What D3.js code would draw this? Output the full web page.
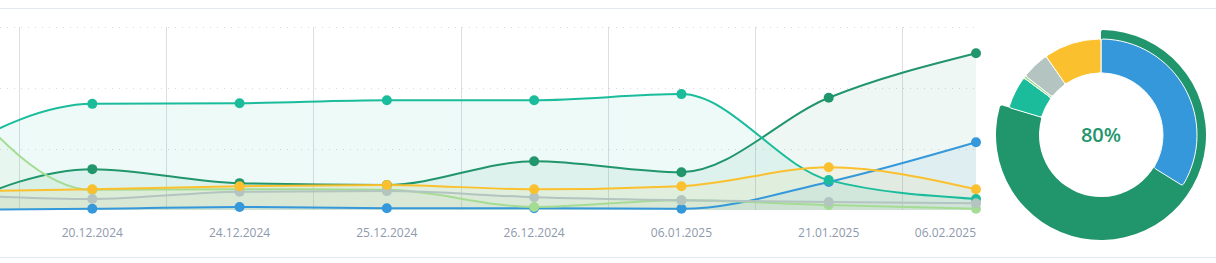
<!DOCTYPE html>
<html lang="en">
<head>
<meta charset="UTF-8">
<title>Dashboard</title>
<script src="https://d3js.org/d3.v7.min.js"></script>
<style>
  body { margin: 0; background: #fff; }
  svg { display: block; font-family: "Open Sans", sans-serif; }
  .tick-label { font-size: 12px; fill: #8e99ab; }
</style>
</head>
<body>
<svg id="chart" width="1216" height="263"></svg>
<script>
// categories (first one sits off the left edge of the view)
const dates = ["19.12.2024", "20.12.2024", "24.12.2024", "25.12.2024", "26.12.2024", "06.01.2025", "21.01.2025", "06.02.2025"];

// series values, in drawing order
const darkGreen  = [0, 67, 44, 41, 80, 62, 184, 257];
const blue       = [0, 2, 5, 3, 3, 2, 46, 111];
const teal       = [90, 174, 175, 180, 180, 190, 49, 18];
const lightGreen = [215, 33, 34, 33, 5, 16, 8, 2];
const gray       = [26, 18, 30, 31, 21, 16, 13, 11];
const yellow     = [30, 34, 39, 41, 34, 39, 70, 34];

const yTicks = [100, 200, 300];

// donut slices, clockwise from 12 o'clock
const donutNames  = ["blue", "darkGreen", "teal", "lightGreen", "gray", "yellow"];
const donutValues = [122, 165, 20, 1.5, 17, 35];
const donutLabel = "80%";

const colors = {
  darkGreen: "#21956b",
  blue: "#3498db",
  teal: "#1abc9c",
  lightGreen: "#a5dc94",
  gray: "#b3c4c1",
  yellow: "#fbc02d"
};

const series = [
  {name: "darkGreen", values: darkGreen},
  {name: "blue", values: blue},
  {name: "teal", values: teal},
  {name: "lightGreen", values: lightGreen},
  {name: "gray", values: gray},
  {name: "yellow", values: yellow}
];

const svg = d3.select("#chart");

// card borders
svg.append("line").attr("x1", 0).attr("x2", 1216).attr("y1", 8.5).attr("y2", 8.5)
  .attr("stroke", "#e3e9ef");
svg.append("line").attr("x1", 0).attr("x2", 1216).attr("y1", 257.5).attr("y2", 257.5)
  .attr("stroke", "#e3e9ef");

const x = d3.scalePoint().domain(dates).range([-55, 976]);
const y = d3.scaleLinear().domain([0, 300]).range([210, 27]);
const step = x.step();

// horizontal dotted grid
svg.append("g").selectAll("line").data(yTicks).join("line")
  .attr("x1", 0).attr("x2", 976)
  .attr("y1", d => Math.round(y(d)) + 0.5).attr("y2", d => Math.round(y(d)) + 0.5)
  .attr("stroke", "#d6d9dd").attr("stroke-dasharray", "1 6");

// vertical grid between categories
svg.append("g").selectAll("line").data(dates.slice(1)).join("line")
  .attr("x1", d => Math.round(x(d) - step / 2) + 0.5)
  .attr("x2", d => Math.round(x(d) - step / 2) + 0.5)
  .attr("y1", y(300)).attr("y2", y(0))
  .attr("stroke", "#dcdfe2");

const area = d3.area()
  .x((d, i) => x(dates[i]))
  .y0(y(0))
  .y1(d => y(d))
  .curve(d3.curveMonotoneX);

const line = d3.line()
  .x((d, i) => x(dates[i]))
  .y(d => y(d))
  .curve(d3.curveMonotoneX);

svg.append("g").selectAll("path").data(series).join("path")
  .attr("d", d => area(d.values))
  .attr("fill", d => colors[d.name])
  .attr("fill-opacity", 0.08);

svg.append("g").selectAll("path").data(series).join("path")
  .attr("d", d => line(d.values))
  .attr("fill", "none")
  .attr("stroke", d => colors[d.name])
  .attr("stroke-width", 2);

const dots = svg.append("g");
series.forEach(s => {
  dots.append("g").selectAll("circle").data(s.values).join("circle")
    .attr("cx", (d, i) => x(dates[i]))
    .attr("cy", d => y(d))
    .attr("r", 5)
    .attr("fill", colors[s.name]);
});

// x labels (the first category is scrolled out of view)
svg.append("g").selectAll("text").data(dates.filter(d => x(d) > 0)).join("text")
  .attr("class", "tick-label")
  .attr("x", d => x(d))
  .attr("y", 237)
  .attr("text-anchor", d => d === dates[dates.length - 1] ? "end" : "middle")
  .text(d => d);

// donut
const cx = 1101, cy = 135;
const donut = svg.append("g").attr("transform", `translate(${cx},${cy})`);
const pie = d3.pie().sort(null).value(d => d)(donutValues);
const arc = d3.arc().innerRadius(62).outerRadius(96).cornerRadius(2);
const hiIndex = donutNames.indexOf("darkGreen");

// highlighted (expanded) slice ring
donut.append("path")
  .attr("d", d3.arc().innerRadius(62).outerRadius(105).cornerRadius(2)({
    startAngle: 0, endAngle: pie[hiIndex].endAngle
  }))
  .attr("fill", colors.darkGreen);

donut.selectAll("path.slice").data(pie).join("path")
  .attr("class", "slice")
  .filter((d, i) => i !== hiIndex)
  .attr("d", arc)
  .attr("fill", (d, i) => colors[donutNames[d.index]])
  .attr("stroke", "#fff")
  .attr("stroke-width", 1);

donut.append("text")
  .attr("y", 7)
  .attr("text-anchor", "middle")
  .attr("font-size", 20)
  .attr("font-weight", 600)
  .attr("fill", colors.darkGreen)
  .text(donutLabel);
</script>
</body>
</html>
